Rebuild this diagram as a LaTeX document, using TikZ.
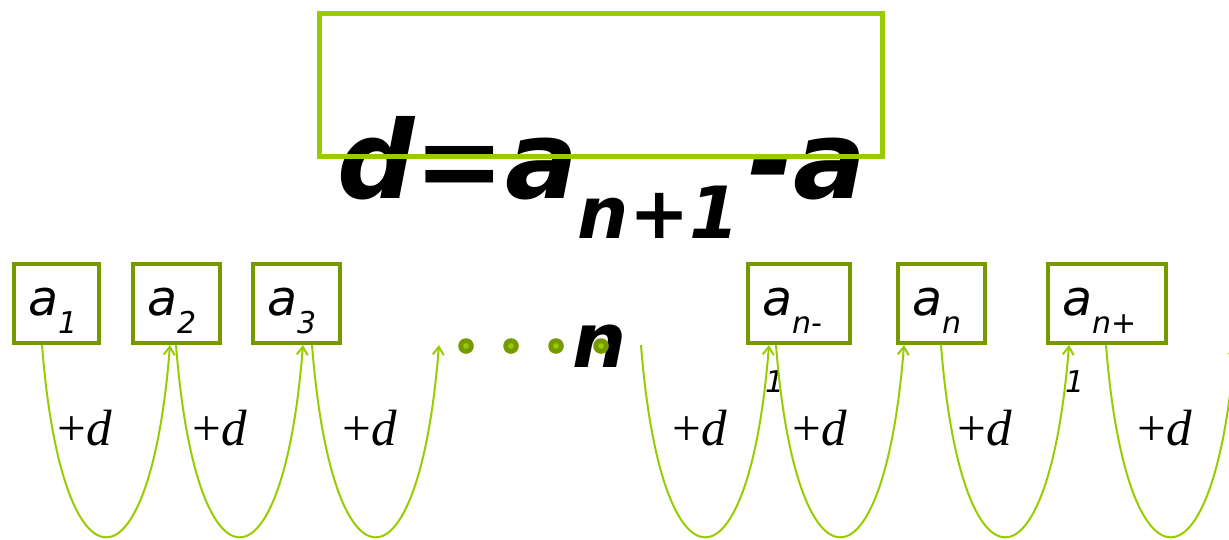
\documentclass[tikz,border=0pt]{standalone}
\usepackage{fontspec}
\newfontfamily\verd{DejaVu Sans}
\newfontfamily\tms{Liberation Serif}
\usetikzlibrary{arrows.meta}

\definecolor{lightgreen}{RGB}{153,204,0}
\definecolor{darkgreen}{RGB}{119,153,0}

\tikzset{
  term/.style={draw=darkgreen, line width=4pt, minimum height=79pt, inner xsep=14pt, inner ysep=0pt,
    text width=#1, text height=30pt, text depth=7pt, align=left, font=\verd\itshape\fontsize{49}{49}\selectfont},
  hop/.style={lightgreen, line width=2pt, -{Straight Barb[length=8pt,width=11pt]}},
  plusd/.style={anchor=base, inner sep=0pt, font=\tms\fontsize{51}{51}\selectfont},
  wrapped/.style={anchor=base west, inner sep=0pt, font=\verd\itshape\fontsize{30}{30}\selectfont},
}
\newcommand{\lowsub}[1]{\raisebox{-18pt}{\fontsize{30}{30}\selectfont #1}}

\begin{document}
\begin{tikzpicture}[x=1pt, y=-1pt]
    \useasboundingbox (0,0) rectangle (1229,539);
    \clip (0,0) rectangle (1229,539);

    % Formula
    \node[anchor=base west, inner sep=0pt, font=\verd\bfseries\itshape\fontsize{108}{108}\selectfont] (formula) at (337,198)
        {d=a\raisebox{-40pt}{\fontsize{72}{72}\selectfont n+1}\hspace{9pt}-a};
    \node[draw=lightgreen, line width=5pt, minimum width=563pt, minimum height=143pt] (frame) at (601,85) {};
    \node[anchor=base west, inner sep=0pt, font=\verd\bfseries\itshape\fontsize{76}{76}\selectfont] (nrest) at (572,367) {n};

    % Terms
    \node[term=57pt] (a1) at (56.5,303.5) {a\lowsub{1}};
    \node[term=59pt] (a2) at (176.5,303.5) {a\lowsub{2}};
    \node[term=59pt] (a3) at (296.5,303.5) {a\lowsub{3}};
    \node[term=74pt] (anm) at (799,303.5) {a\lowsub{n-}};
    \node[term=59pt] (an) at (941.5,303.5) {a\lowsub{n}};
    \node[term=90pt] (anp) at (1107,303.5) {a\lowsub{n+}};
    \node[wrapped] (anm1) at (765,392) {1};
    \node[wrapped] (anp1) at (1065,392) {1};

    % Dots
    \foreach \x in {466,511,556,601} {
        \fill[darkgreen] (\x,346) circle (7.8pt);
        \fill[lightgreen] (\x,346) circle (2.8pt);
    }

    % Steps
    \coordinate (gapin) at (439,345);
    \coordinate (gapout) at (641,345);
    \coordinate (offright) at (1235,345);
    \draw[hop] ([xshift=-14.5pt]a1.south) .. controls +(20,256) and +(-20,256) .. ([xshift=-6.5pt]a2.south);
    \draw[hop] ([xshift=-0.5pt]a2.south) .. controls +(20,256) and +(-20,256) .. ([xshift=6.5pt]a3.south);
    \draw[hop] ([xshift=15.5pt]a3.south) .. controls +(20,256) and +(-20,256) .. (gapin);
    \draw[hop] (gapout) .. controls +(20,256) and +(-20,256) .. ([xshift=-30pt]anm.south);
    \draw[hop] ([xshift=-23pt]anm.south) .. controls +(20,256) and +(-20,256) .. ([xshift=-37.5pt]an.south);
    \draw[hop] ([xshift=-0.5pt]an.south) .. controls +(20,256) and +(-20,256) .. ([xshift=-38pt]anp.south);
    \draw[hop] ([xshift=-1pt]anp.south) .. controls +(20,256) and +(-20,256) .. (offright);

    \foreach \x [count=\i] in {85,220,370,700,820,985,1165}
        \node[plusd] (plus\i) at (\x,445) {+\textit{d}};
\end{tikzpicture}
\end{document}
